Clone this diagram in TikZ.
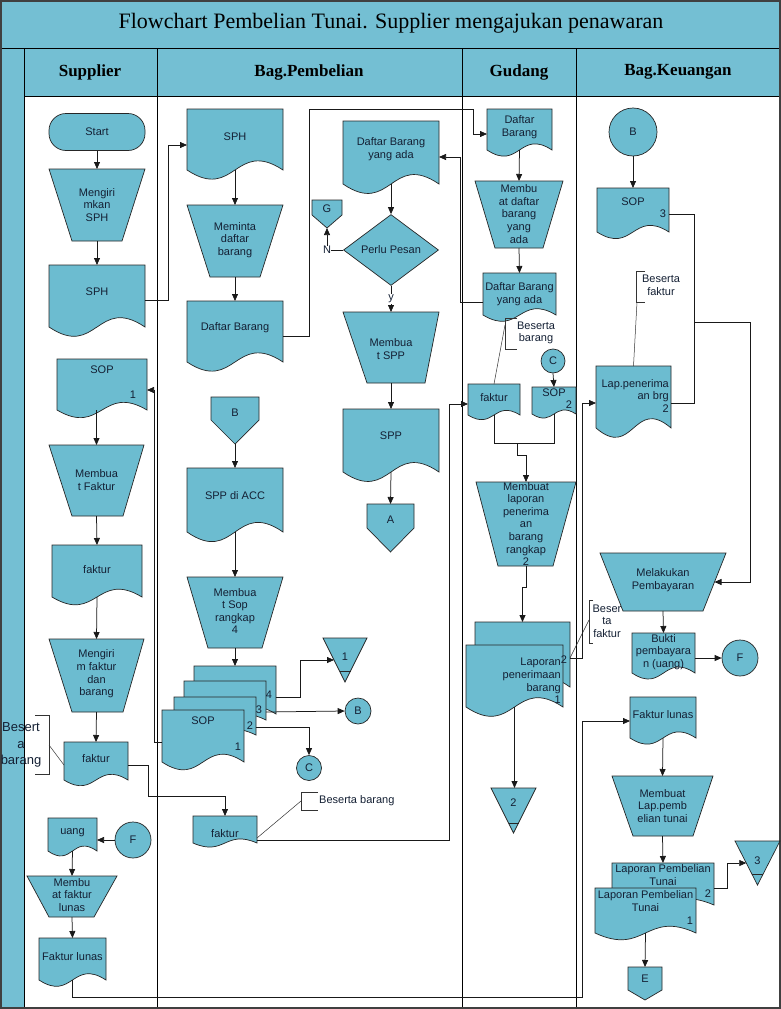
\documentclass[tikz,border=0pt]{standalone}
\usepackage{fontspec}
\setmainfont{Liberation Sans}
\newfontfamily\ttlfont{Liberation Serif}
\usetikzlibrary{arrows.meta,calc,shapes.geometric}
\definecolor{bfill}{RGB}{108,188,208}
\definecolor{hfill}{RGB}{116,191,211}
\definecolor{txtc}{RGB}{20,32,52}
\tikzset{
  shp/.style={fill=bfill, draw=black!85, line width=0.7pt},
  box/.style={draw=none, fill=none, inner sep=0pt, outer sep=0pt, rectangle},
  txt/.style={text=txtc, font=\fontsize{11}{12.6}\selectfont, align=center, inner sep=0pt},
  arr/.style={draw=black!90, line width=0.75pt, -{Triangle[length=7pt,width=6pt]}},
  ln/.style={draw=black!90, line width=0.75pt},
  ann/.style={draw=black!80, line width=0.5pt},
  lane/.style={draw=black, line width=0.8pt},
  hdr/.style={font=\ttlfont\bfseries\fontsize{17}{20}\selectfont, text=black},
  lbl/.style={txt, fill=white, inner sep=1pt},
}
% document shape: name x1 y1 x2 y0 text texty
\newcommand\mkDoc[7]{%
  \pgfmathsetmacro\dXm{(#2+#4)/2}%
  \pgfmathsetmacro\dCu{#5-0.52*(#5-#3)}%
  \pgfmathsetmacro\dCd{#5+0.52*(#5-#3)}%
  \pgfmathsetmacro\dYm{(#3+#5)/2}%
  \pgfmathsetmacro\dW{#4-#2}%
  \pgfmathsetmacro\dH{#5-#3}%
  \path[shp] (#2,#3) -- (#4,#3) -- (#4,#5) .. controls (\dXm,\dCu) and (\dXm,\dCd) .. (#2,#5) -- cycle;
  \node[box, minimum width=\dW pt, minimum height=\dH pt] (#1) at (\dXm,\dYm) {};
  \node[txt] (#1-t) at (\dXm,#7) {#6};
}
% trapezoid: name x1 x2 y1 bx1 bx2 y2 text texty
\newcommand\mkTrap[9]{%
  \path[shp] (#2,#4) -- (#3,#4) -- (#6,#7) -- (#5,#7) -- cycle;
  \pgfmathsetmacro\dXm{(#2+#3)/2}%
  \pgfmathsetmacro\dYm{(#4+#7)/2}%
  \pgfmathsetmacro\dW{#3-#2}%
  \pgfmathsetmacro\dH{#7-#4}%
  \node[box, minimum width=\dW pt, minimum height=\dH pt] (#1) at (\dXm,\dYm) {};
  \node[txt] (#1-t) at (\dXm,#9) {#8};
}
% off-page: name x1 x2 y1 ym y2 text texty
\newcommand\mkOff[8]{%
  \pgfmathsetmacro\dXm{(#2+#3)/2}%
  \path[shp] (#2,#4) -- (#3,#4) -- (#3,#5) -- (\dXm,#6) -- (#2,#5) -- cycle;
  \pgfmathsetmacro\dYm{(#4+#6)/2}%
  \pgfmathsetmacro\dW{#3-#2}%
  \pgfmathsetmacro\dH{#6-#4}%
  \node[box, minimum width=\dW pt, minimum height=\dH pt] (#1) at (\dXm,\dYm) {};
  \node[txt] (#1-t) at (\dXm,#8) {#7};
}
% merge triangle: name x1 x2 y1 y2 yline text texty
\newcommand\mkTri[8]{%
  \pgfmathsetmacro\dXm{(#2+#3)/2}%
  \pgfmathsetmacro\dHw{(#3-#2)/2*(#5-#6)/(#5-#4)}%
  \path[shp] (#2,#4) -- (#3,#4) -- (\dXm,#5) -- cycle;
  \draw[shp, fill=none] (\dXm-\dHw,#6) -- (\dXm+\dHw,#6);
  \pgfmathsetmacro\dYm{(#4+#5)/2}%
  \pgfmathsetmacro\dW{#3-#2}%
  \pgfmathsetmacro\dH{#5-#4}%
  \node[box, minimum width=\dW pt, minimum height=\dH pt] (#1) at (\dXm,\dYm) {};
  \node[txt] (#1-t) at (\dXm,#8) {#7};
}
\begin{document}
\begin{tikzpicture}[x=1pt,y=-1pt]
\path[use as bounding box] (0,0) rectangle (781,1009);
\fill[white] (0,0) rectangle (781,1009);
\fill[hfill] (0,0) rectangle (781,96);
\fill[hfill] (0,96) rectangle (24,1009);
\draw[lane] (0,48) -- (781,48);
\draw[lane] (24,96) -- (781,96);
\foreach \lx in {24,157,462,576} \draw[lane] (\lx,48) -- (\lx,1009);
\draw[line width=2pt, draw=black!75] (1,1) rectangle (780,1008);
\node[font=\ttlfont\fontsize{22}{26}\selectfont] (title) at (391,23) {Flowchart Pembelian Tunai. Supplier mengajukan penawaran};
\node[hdr] (h1) at (90,72) {Supplier};
\node[hdr] (h2) at (309,72) {Bag.Pembelian};
\node[hdr] (h3) at (519,72) {Gudang};
\node[hdr] (h4) at (678,72) {Bag.Keuangan};

% ---------- Supplier ----------
\node[shp, txt, rectangle, rounded corners=17pt, minimum width=96pt, minimum height=37pt] (start) at (97,132) {Start};
\mkTrap{m1}{49}{145}{169}{72}{122}{241}{Mengiri\\mkan\\SPH}{205}
\mkDoc{sph1}{49}{265}{145}{327}{SPH}{292}
\mkDoc{sops}{57}{359}{147}{410}{SOP}{370}
\node[txt] (sops-n) at (133,395) {1};
\mkTrap{mf}{49}{144}{445}{72}{123}{516}{Membua\\t Faktur}{480}
\mkDoc{fak1}{52}{545}{142}{597}{faktur}{570}
\mkTrap{mfd}{49}{144}{639}{72}{123}{712}{Mengiri\\m faktur\\dan\\barang}{674}
\mkDoc{fak2}{64}{742}{128}{780}{faktur}{759}
\mkDoc{uang}{48}{818}{97}{851}{uang}{833}
\node[shp, txt, circle, minimum size=36pt] (F1) at (133,840) {F};
\mkTrap{mfl}{27}{117}{876}{49}{94}{917}{Membu\\at faktur\\lunas}{895}
\mkDoc{fls}{39}{938}{106}{980}{Faktur lunas}{957}

% ---------- Bag.Pembelian ----------
\mkDoc{sph2}{187}{109}{283}{170}{SPH}{137}
\mkTrap{mdb}{187}{283}{205}{210}{260}{277}{Meminta\\daftar\\barang}{240}
\mkDoc{daftar}{187}{301}{283}{362}{Daftar Barang}{328}
\mkDoc{pemDBA}{343}{121}{439}{184}{Daftar Barang\\yang ada}{149}
\node[shp, txt, diamond, minimum width=95pt, minimum height=71pt] (dia) at (391,250) {Perlu Pesan};
\mkOff{G}{312}{342}{200}{215}{228}{G}{209}
\mkTrap{spp1}{343}{439}{312}{367}{425}{383}{Membua\\t SPP}{349}
\mkDoc{sppd}{343}{409}{439}{472}{SPP}{436}
\mkOff{A}{367}{414}{504}{528}{552}{A}{520}
\mkOff{B1}{211}{259}{397}{420}{444}{B}{413}
\mkDoc{sppacc}{187}{468}{283}{532}{SPP di ACC}{496}
\mkTrap{msop}{187}{283}{577}{208}{262}{648}{Membua\\t Sop\\rangkap\\4}{611}
\mkDoc{s4}{194}{666}{276}{714}{}{690}
\mkDoc{s3}{184}{681}{266}{720}{}{700}
\mkDoc{s2}{174}{697}{256}{735}{}{715}
\mkDoc{s1}{162}{710}{244}{762}{SOP}{721}
\node[txt] (s4-n) at (269,695) {4};
\node[txt] (s3-n) at (259,710) {3};
\node[txt] (s2-n) at (250,726) {2};
\node[txt] (s1-n) at (238,747) {1};
\mkTri{T1}{323}{367}{638}{682}{671}{1}{657}
\node[shp, txt, circle, minimum size=26pt] (B2) at (358,711) {B};
\node[shp, txt, circle, minimum size=25pt] (C2) at (309,768) {C};
\mkDoc{fak3}{193}{816}{257}{843}{faktur}{834}
\node[txt] (nlab) at (327,250) {N};

% ---------- Gudang ----------
\mkDoc{gDB}{487}{109}{552}{150}{Daftar\\Barang}{127}
\mkTrap{gm1}{475}{563}{181}{495}{543}{248}{Membu\\at daftar\\barang\\yang\\ada}{214}
\mkDoc{gDBA}{483}{273}{556}{315}{Daftar Barang\\yang ada}{294}
\node[shp, txt, circle, minimum size=24pt] (C3) at (553,361) {C};
\mkDoc{gsop}{532}{387}{576}{414}{SOP}{393}
\node[txt] (gsop-n) at (569,405) {2};
\mkDoc{gfak}{468}{384}{520}{415}{faktur}{398}
\mkTrap{glap}{476}{576}{482}{498}{553}{566}{Membuat\\laporan\\penerima\\an\\barang\\rangkap\\2}{524}
\mkDoc{lp2}{475}{622}{570}{687}{}{650}
\mkDoc{lp1}{466}{645}{563}{707}{}{680}
\node[txt] (lp2-n) at (564,660) {2};
\node[txt, align=right, anchor=east] (lp1-x) at (561,681) {Laporan\\penerimaan\\barang\\1};
\mkTri{T2}{491}{536}{788}{833}{823}{2}{803}

% ---------- Bag.Keuangan ----------
\node[shp, txt, circle, minimum size=48pt] (B3) at (633,132) {B};
\mkDoc{ksop}{597}{188}{669}{232}{SOP}{202}
\node[txt] (ksop-n) at (663,214) {3};
\mkDoc{klap}{596}{366}{671}{428}{}{396}
\node[txt, align=right, anchor=east] (klap-x) at (669,396) {Lap.penerima\\an brg\\2};
\mkTrap{kmel}{600}{726}{553}{623}{703}{611}{Melakukan\\Pembayaran}{580}
\mkDoc{kbukti}{632}{633}{695}{673}{Bukti\\pembayara\\n (uang)}{652}
\node[shp, txt, circle, minimum size=36pt] (F2) at (740,658) {F};
\mkDoc{kfl}{630}{697}{696}{738}{Faktur lunas}{715}
\mkTrap{kmlap}{612}{713}{776}{633}{693}{836}{Membuat\\Lap.pemb\\elian tunai}{806}
\mkDoc{klp2}{612}{863}{714}{905}{Laporan Pembelian\\Tunai}{875}
\mkDoc{klp1}{595}{888}{696}{933}{Laporan Pembelian\\Tunai}{901}
\node[txt] (klp2-n) at (708,894) {2};
\node[txt] (klp1-n) at (690,921) {1};
\mkTri{T3}{735}{780}{841}{885}{874}{3}{861}
\mkOff{E}{628}{662}{967}{990}{1000}{E}{979}

% ---------- annotations ----------
\draw[ann] (35,715) -- (49,715) -- (49,774) -- (35,774);
\draw[ann] (49,745) -- (fak2.west |- 0,765);
\node[txt, font=\fontsize{13}{16.5}\selectfont] (ann1) at (21,745) {Besert\\a\\barang};
\draw[ann] (318,792) -- (301,792) -- (301,810) -- (318,810);
\draw[ann] (301,801) -- (fak3.east |- 0,838);
\node[txt, anchor=west] (ann2) at (319,801) {Beserta barang};
\draw[ann] (517,318) -- (505,318) -- (505,349) -- (517,349);
\draw[ann] (505,325) -- (gfak.north);
\node[txt] (ann3) at (536,333) {Beserta\\barang};
\draw[ann] (593,600) -- (589,600) -- (589,643) -- (593,643);
\draw[ann] (lp2.east |- 0,658) -- (589,620);
\node[txt] (ann4) at (607,621) {Beser\\ta\\faktur};
\draw[ann] (645,271) -- (636,271) -- (636,302) -- (645,302);
\draw[ann] (637,302) -- (klap.north);
\node[txt] (ann5) at (661,285) {Beserta\\faktur};

% ---------- connectors ----------
\coordinate (j1) at (517,443);
\coordinate (j2) at (694,322);
% supplier
\draw[arr] (start.south) -- (m1.north);
\draw[arr] (m1.south) -- (sph1.north);
\draw[arr] (sph1.east |- 0,300) -| (168,145) -- (sph2.west |- 0,145);
\draw[arr] (sops.south -| mf.north) -- (mf.north);
\draw[arr] (mf.south) -- (fak1.north);
\draw[arr] (fak1.south) -- (mfd.north);
\draw[arr] (mfd.south) -- (fak2.north);
\draw[arr] (fak2.east |- 0,765) -- (148,765) -- (148,796) -| (fak3.north);
\draw[arr] (F1.west) -- (uang.east |- F1.west);
\draw[arr] (uang.south) -- (mfl.north);
\draw[arr] (mfl.south) -- (fls.north);
\draw[arr] (fls.south) -- (fls.south |- 0,997) -- (582,997) -- (582,721) -- (kfl.west |- 0,721);
% pembelian
\draw[arr] (sph2.south) -- (mdb.north);
\draw[arr] (mdb.south) -- (daftar.north);
\draw[arr] (daftar.east |- 0,336) -- (309,336) -- (309,109) -- (473,109) -- (473,134) -- (gDB.west |- 0,134);
\draw[arr] (pemDBA.south) -- (dia.north);
\draw[ln] (dia.west) -- (nlab.east);
\draw[arr] (nlab.north) -- (G.south);
\draw[arr] (dia.south) -- node[lbl] (ylab) {y} (spp1.north);
\draw[arr] (spp1.south) -- (sppd.north);
\draw[arr] (sppd.south) -- (A.north);
\draw[arr] (B1.south) -- (sppacc.north);
\draw[arr] (sppacc.south) -- (msop.north);
\draw[arr] (msop.south) -- (s4.north);
\draw[arr] (s4.east |- 0,697) -- (300,697) -- (300,660) -- ($(T1.north west)!0.5!(T1.south)$);
\draw[arr] (s3.east |- 0,712) -- (B2.west);
\draw[arr] (s2.east |- 0,727) -| (C2.north);
\draw[arr] (s1.west |- 0,742) -- (154,742) -- (154,390) -- (sops.east |- 0,390);
\draw[arr] (fak3.east |- 0,840) -- (449,840) -- (449,404) -- (gfak.west |- 0,404);
% gudang
\draw[arr] (gDB.south) -- (gm1.north);
\draw[arr] (gm1.south) -- (gDBA.north);
\draw[arr] (gDBA.west |- 0,302) -- (460,302) -- (460,157) -- (pemDBA.east |- 0,157);
\draw[arr] (C3.south) -- (gsop.north);
\draw[ln] (gfak.south) -- (gfak.south |- j1) -- (gsop.south |- j1) -- (gsop.south);
\draw[arr] (j1) -- ++(0,12) -| (glap.north);
\draw[arr] (glap.south) -- ++(0,21) -| (lp2.north);
\draw[arr] (lp1.south) -- (lp1.south |- T2.north);
\draw[arr] (lp2.east |- 0,658) -- (582,658) -- (582,403) -- (klap.west |- 0,403);
% keuangan
\draw[arr] (B3.south) -- (ksop.north);
\draw[ln] (ksop.east |- 0,214) -- (694,214) -- (694,403) -- (klap.east |- 0,403);
\draw[arr] (j2) -- (750,322) -- (750,582) -- ($(kmel.east)+(-11.5,0)$);
\draw[arr] (kmel.south) -- (kbukti.north);
\draw[arr] (kbukti.east |- 0,658) -- (F2.west);
\draw[arr] (kfl.south) -- (kmlap.north);
\draw[arr] (kmlap.south) -- (klp2.north);
\draw[arr] (klp2.east |- 0,888) -- (727,888) -- (727,863) -- ($(T3.north west)!0.5!(T3.south)$);
\draw[arr] (klp1.south) -- (E.north);
\end{tikzpicture}
\end{document}
